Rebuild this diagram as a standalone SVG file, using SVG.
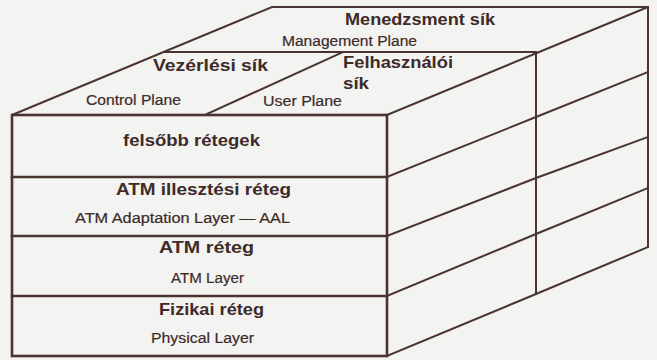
<svg xmlns="http://www.w3.org/2000/svg" width="657" height="360" viewBox="0 0 657 360">
<style>
.ln{fill:none;stroke:#4a3431;stroke-width:2;stroke-linejoin:miter;stroke-linecap:square}
.thk{stroke-width:2.6}
.b{font-family:"Liberation Sans",Arial,sans-serif;font-weight:bold;font-size:16.5px;fill:#3d2b29}
.r{font-family:"Liberation Sans",Arial,sans-serif;font-size:14px;fill:#3d2b29;stroke:#3d2b29;stroke-width:0.2}
</style>
<rect x="0" y="0" width="657" height="360" fill="#f3f3f1"/>
<g id="management-plane">
<polygon class="ln" points="12,115 272,7 648,7 387,115"/>
<line class="ln" x1="164" y1="52" x2="536" y2="52"/>
<text class="b" x="345" y="25" textLength="150" lengthAdjust="spacingAndGlyphs">Menedzsment sík</text>
<text class="r" x="282" y="46" textLength="135" lengthAdjust="spacingAndGlyphs">Management Plane</text>
</g>
<g id="control-plane">
<text class="b" x="153" y="71" textLength="115" lengthAdjust="spacingAndGlyphs">Vezérlési sík</text>
<text class="r" x="86" y="105" textLength="95" lengthAdjust="spacingAndGlyphs">Control Plane</text>
</g>
<g id="user-plane">
<line class="ln" x1="205" y1="115" x2="343" y2="52"/>
<text class="b" x="343" y="68" textLength="110" lengthAdjust="spacingAndGlyphs">Felhasználói</text>
<text class="b" x="343" y="89" textLength="26" lengthAdjust="spacingAndGlyphs">sík</text>
<text class="r" x="263" y="106" textLength="79" lengthAdjust="spacingAndGlyphs">User Plane</text>
</g>
<g id="right-face">
<polyline class="ln" points="536,52 536,294"/>
<polyline class="ln" points="648,7 648,247"/>
<polyline class="ln" points="387,177 536,117 648,72"/>
<polyline class="ln" points="387,236 536,178 648,137"/>
<polyline class="ln" points="387,296 536,234 648,188"/>
<polyline class="ln" points="387,356 536,294 648,247"/>
</g>
<g id="front-face">
<rect class="ln thk" x="12" y="115" width="375" height="241"/>
</g>
<g id="upper-layers">
<text class="b" x="123" y="146" textLength="137" lengthAdjust="spacingAndGlyphs">felsőbb rétegek</text>
</g>
<g id="aal-layer">
<line class="ln thk" x1="12" y1="177" x2="387" y2="177"/>
<text class="b" x="116" y="195" textLength="175" lengthAdjust="spacingAndGlyphs">ATM illesztési réteg</text>
<text class="r" x="75" y="223" textLength="215" lengthAdjust="spacingAndGlyphs">ATM Adaptation Layer — AAL</text>
</g>
<g id="atm-layer">
<line class="ln thk" x1="12" y1="236" x2="387" y2="236"/>
<text class="b" x="159" y="253" textLength="95" lengthAdjust="spacingAndGlyphs">ATM réteg</text>
<text class="r" x="171" y="283" textLength="73" lengthAdjust="spacingAndGlyphs">ATM Layer</text>
</g>
<g id="physical-layer">
<line class="ln thk" x1="12" y1="296" x2="387" y2="296"/>
<text class="b" x="159" y="315" textLength="105" lengthAdjust="spacingAndGlyphs">Fizikai réteg</text>
<text class="r" x="151" y="343" textLength="103" lengthAdjust="spacingAndGlyphs">Physical Layer</text>
</g>
<g id="connectors"></g>
</svg>
